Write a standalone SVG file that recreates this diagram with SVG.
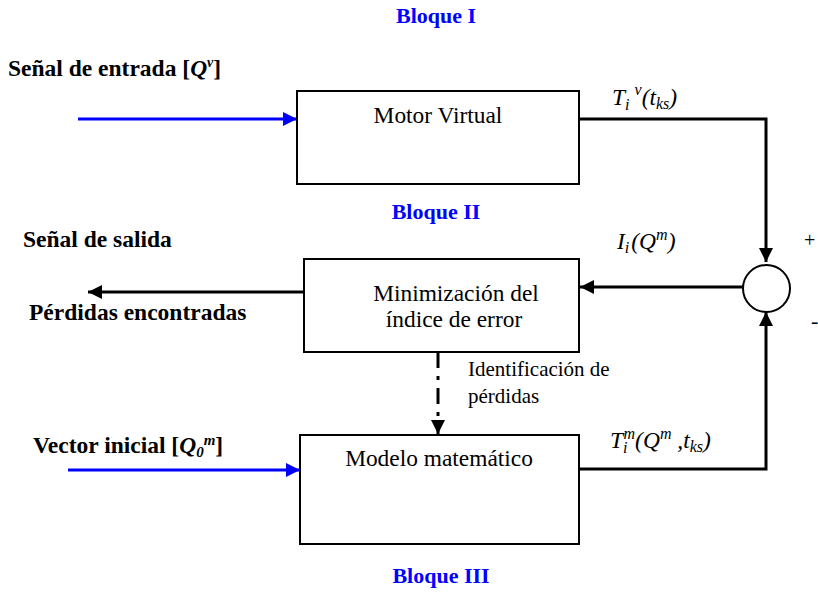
<svg xmlns="http://www.w3.org/2000/svg" width="818" height="595" viewBox="0 0 818 595">
<style>
.box{fill:#fff;stroke:#000;stroke-width:2}
.t{font-family:"Liberation Serif","Times New Roman","DejaVu Serif",serif;fill:#000}
.reg{font-size:23.4px}
.bold{font-size:23.5px;font-weight:bold}
.blq{font-size:22px;font-weight:bold;fill:#0000ff}
.math{font-size:23.5px;font-style:italic}
.ln{fill:none;stroke:#000;stroke-width:3}
.blue{fill:none;stroke:#0000ff;stroke-width:3}
</style>
<defs>
<marker id="ah" markerUnits="userSpaceOnUse" markerWidth="16" markerHeight="14" refX="14" refY="7" orient="auto"><path d="M0,0 L14,7 L0,14 Z" fill="#000"/></marker>
<marker id="ahb" markerUnits="userSpaceOnUse" markerWidth="16" markerHeight="14" refX="14" refY="7" orient="auto"><path d="M0,0 L14,7 L0,14 Z" fill="#0000ff"/></marker>
</defs>
<rect width="818" height="595" fill="#fff"/>
<text class="t blq" x="436" y="23" text-anchor="middle">Bloque I</text>
<text class="t blq" x="436" y="219" text-anchor="middle">Bloque II</text>
<text class="t blq" x="441" y="583" text-anchor="middle">Bloque III</text>
<g id="connectors">
<line class="blue" x1="78" y1="119" x2="297" y2="119" marker-end="url(#ahb)"/>
<line class="blue" x1="68" y1="470" x2="300" y2="470" marker-end="url(#ahb)"/>
<polyline class="ln" points="579,119 766,119 766,262" marker-end="url(#ah)"/>
<polyline class="ln" points="579,469 766,469 766,312" marker-end="url(#ah)"/>
<line class="ln" x1="743" y1="287" x2="580" y2="287" marker-end="url(#ah)"/>
<line class="ln" x1="304" y1="292" x2="88" y2="292" marker-end="url(#ah)"/>
<line class="ln" x1="438" y1="352" x2="438" y2="434" stroke-dasharray="16,8,4,8" marker-end="url(#ah)"/>
</g>
<g id="motor-virtual">
<rect class="box" x="297" y="91" width="282" height="93"/>
<text class="t reg" x="438" y="123" text-anchor="middle">Motor Virtual</text>
</g>
<g id="minimizacion">
<rect class="box" x="304" y="259" width="275" height="93"/>
<text class="t reg" x="456" y="301" text-anchor="middle">Minimización del</text>
<text class="t reg" x="454" y="327" text-anchor="middle">índice de error</text>
</g>
<g id="modelo">
<rect class="box" x="300" y="435" width="279" height="109"/>
<text class="t reg" x="439" y="466" text-anchor="middle">Modelo matemático</text>
</g>
<g id="sumador">
<circle cx="766.5" cy="288.5" r="23.5" fill="#fff" stroke="#000" stroke-width="2"/>
<text class="t" x="804" y="247" font-size="20">+</text>
<text class="t" x="811" y="328" font-size="22">-</text>
</g>
<g id="labels">
<text class="t bold" x="8" y="76">Señal de entrada [<tspan font-style="italic">Q</tspan><tspan font-size="14" dy="-9" font-style="italic">v</tspan><tspan dy="9">]</tspan></text>
<text class="t bold" x="23" y="247">Señal de salida</text>
<text class="t bold" x="29" y="320">Pérdidas encontradas</text>
<text class="t bold" x="33" y="453">Vector inicial [<tspan font-style="italic">Q</tspan><tspan font-style="italic" font-size="15" dy="4">0</tspan><tspan font-style="italic" font-size="15" dy="-12">m</tspan><tspan dy="8">]</tspan></text>
<text class="t" x="468" y="376" font-size="21">Identificación de</text>
<text class="t" x="468" y="403" font-size="21">pérdidas</text>
<text class="t math" x="612" y="105">T<tspan font-size="16" dy="5">i</tspan><tspan font-size="16" dx="5" dy="-15">v</tspan><tspan dy="10">(t</tspan><tspan font-size="16" dy="4">ks</tspan><tspan dy="-4">)</tspan></text>
<text class="t math" x="617" y="249">I<tspan font-size="16" dy="4">i</tspan><tspan dx="2" dy="-4">(Q</tspan><tspan font-size="16" dy="-9">m</tspan><tspan dy="9">)</tspan></text>
<text class="t math" x="610" y="448">T<tspan font-size="16" dy="5">i</tspan><tspan font-size="16" dx="-4" dy="-14">m</tspan><tspan dy="9">(Q</tspan><tspan font-size="16" dy="-9">m</tspan><tspan dy="9"> ,t</tspan><tspan font-size="16" dy="4">ks</tspan><tspan dy="-4">)</tspan></text>
</g>
</svg>
